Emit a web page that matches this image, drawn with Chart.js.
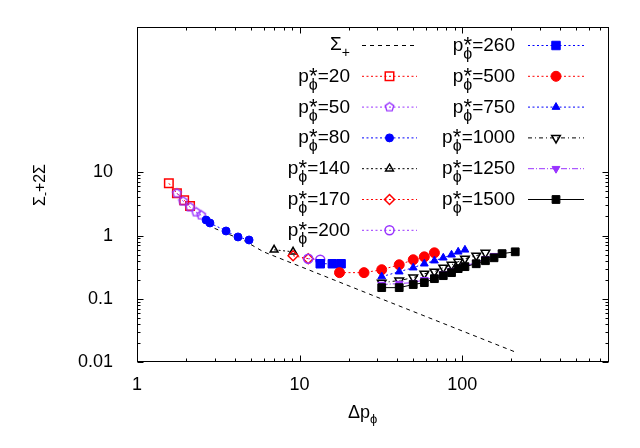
<!DOCTYPE html>
<html>
<head>
<meta charset="utf-8">
<script src="https://cdn.jsdelivr.net/npm/chart.js@4.4.0/dist/chart.umd.min.js"></script>
<style>
html,body{margin:0;padding:0;background:#fff}
</style>
</head>
<body>
<canvas id="c" width="640" height="448"></canvas>
<script>
const FONT='"Liberation Sans", Arial, sans-serif';
const RED='#ff0000', PURPLE='#9933ff', BLUE='#0000ff', BLACK='#000000';

// values: x = Δp_phi, y = Σ_ + 2Σ
const sigX=[3.0,4.6,6.0,32.7,212];
const sigY=[1.3,0.82,0.553,0.097,0.0144];

const x20=[1.57,1.76,1.95,2.12];
const y20=[6.7,4.67,3.62,2.92];
const x50=[1.76,1.92,2.12,2.31,2.48];
const y50=[4.67,3.49,2.81,2.35,2.1];
const x80=[2.66,2.81,3.53,4.18,4.89];
const y80=[1.76,1.58,1.18,0.95,0.85];
const x140=[6.97,9.12];
const y140=[0.594,0.554];
const x170=[9.12,11.3];
const y170=[0.48,0.43];
const x200=[11.3,13.4];
const y200=[0.43,0.414];
const x260=[13.4,15.9,18.0];
const y260=[0.358,0.358,0.358];
const x500=[17.6,24.9,32,41,50,58.5,67.5];
const y500=[0.259,0.259,0.288,0.345,0.414,0.46,0.533];
const x750=[32,41,50,58.5,67.5,76.5,86,94.5,104];
const y750=[0.224,0.268,0.31,0.358,0.4,0.445,0.496,0.553,0.594];
const x1000=[32,41,50,58.5,67.5,76.5,86,94.5,104,122,139];
const y1000=[0.18,0.194,0.216,0.249,0.268,0.31,0.345,0.385,0.43,0.48,0.533];
const x1250=[32,41,50,58.5,67.5,76.5,86,94.5,104,122,139,157,176];
const y1250=[0.168,0.174,0.18,0.2,0.216,0.249,0.278,0.31,0.333,0.371,0.43,0.48,0.533];
const x1500=[32,41,50,58.5,67.5,76.5,86,94.5,104,122,139,157,176,212];
const y1500=[0.15,0.15,0.168,0.18,0.208,0.232,0.259,0.3,0.322,0.358,0.4,0.445,0.517,0.553];

const pStar=[20,50,80,140,170,200,260,500,750,1000,1250,1500];

const xMajor=[1,10,100];
const yMajor=[0.01,0.1,1,10];
const xMinor=[], yMinor=[];
[1,10,100].forEach(d=>{for(let k=2;k<=9;k++){ if(d*k<800) xMinor.push(d*k); }});
[0.01,0.1,1].forEach(d=>{for(let k=2;k<=9;k++) yMinor.push(d*k);});

function pentagon(color,r){
  const s=2*r+4, c=document.createElement('canvas');
  c.width=c.height=s;
  const g=c.getContext('2d');
  g.strokeStyle=color; g.lineWidth=1.4;
  g.beginPath();
  for(let i=0;i<5;i++){
    const a=-Math.PI/2+i*2*Math.PI/5;
    const px=s/2+r*Math.cos(a), py=s/2+r*Math.sin(a);
    if(i) g.lineTo(px,py); else g.moveTo(px,py);
  }
  g.closePath(); g.stroke();
  return c;
}

function ds(label,xs,ys,color,o){
  return Object.assign({
    label,
    data:xs.map((x,i)=>({x,y:ys[i]})),
    showLine:true,
    borderColor:color,borderWidth:1,borderDash:[2,2.5],
    pointBorderColor:color,pointBackgroundColor:color,pointBorderWidth:1,
    pointRadius:4,pointStyle:'circle',pointRotation:0
  },o);
}
const OPEN='rgba(0,0,0,0)';

const datasets=[
  ds('sigma',sigX,sigY,BLACK,{borderDash:[4,4],pointRadius:0}),
  ds('p20',x20,y20,RED,{pointStyle:'rect',pointRadius:6,pointBackgroundColor:OPEN,pointBorderWidth:1.5}),
  ds('p50',x50,y50,PURPLE,{pointStyle:pentagon(PURPLE,4.5)}),
  ds('p80',x80,y80,BLUE,{pointRadius:4}),
  ds('p140',x140,y140,BLACK,{pointStyle:'triangle',pointRadius:4.5,pointBackgroundColor:OPEN,pointBorderWidth:1.5}),
  ds('p170',x170,y170,RED,{pointStyle:'rectRot',pointRadius:5,pointBackgroundColor:OPEN,pointBorderWidth:1.5}),
  ds('p200',x200,y200,PURPLE,{pointRadius:4.5,pointBackgroundColor:OPEN,pointBorderWidth:1.5}),
  ds('p260',x260,y260,BLUE,{pointStyle:'rect',pointRadius:6}),
  ds('p500',x500,y500,RED,{pointRadius:5}),
  ds('p750',x750,y750,BLUE,{pointStyle:'triangle',pointRadius:4.5}),
  ds('p1000',x1000,y1000,BLACK,{pointStyle:'triangle',pointRotation:180,pointRadius:5,pointBackgroundColor:OPEN,pointBorderWidth:1.5,borderDash:[4,3,1,3]}),
  ds('p1250',x1250,y1250,PURPLE,{pointStyle:'triangle',pointRotation:180,pointRadius:4.5,borderDash:[6,2,1,2]}),
  ds('p1500',x1500,y1500,BLACK,{pointStyle:'rect',pointRadius:5.5,borderDash:[]})
];
// gnuplot draws later curves on top
datasets.forEach((d,i)=>{ d.order=datasets.length-i; });

function drawPLabel(ctx,right,y,val){
  const tail='='+val;
  ctx.font='19px '+FONT;
  const wT=ctx.measureText(tail).width, wP=ctx.measureText('p').width;
  ctx.font='16px '+FONT;
  const wS=Math.max(ctx.measureText('ϕ').width,9);
  const x0=right-wT-wS-wP;
  ctx.textBaseline='alphabetic';
  ctx.textAlign='left';
  ctx.font='19px '+FONT; ctx.fillText('p',x0,y+6);
  ctx.textAlign='center';
  ctx.font='22px '+FONT; ctx.fillText('*',x0+wP+wS/2,y+7);
  ctx.font='16px '+FONT; ctx.fillText('ϕ',x0+wP+wS/2,y+14);
  ctx.textAlign='left';
  ctx.font='19px '+FONT; ctx.fillText(tail,right-wT,y+6);
}

function drawSample(ctx,d,x1,x2,y){
  ctx.save();
  ctx.strokeStyle=d.borderColor; ctx.lineWidth=d.borderWidth;
  ctx.setLineDash(d.borderDash);
  ctx.beginPath(); ctx.moveTo(x1,y+0.5); ctx.lineTo(x2,y+0.5); ctx.stroke();
  ctx.setLineDash([]);
  if(d.pointRadius>0){
    ctx.fillStyle=d.pointBackgroundColor; ctx.strokeStyle=d.pointBorderColor;
    ctx.lineWidth=d.pointBorderWidth;
    Chart.helpers.drawPoint(ctx,{pointStyle:d.pointStyle,rotation:d.pointRotation,radius:d.pointRadius,borderWidth:d.pointBorderWidth},(x1+x2)/2,y+0.5);
  }
  ctx.restore();
}

const decor={
  id:'decor',
  afterDatasetsDraw(chart){
    const {ctx,chartArea:a,scales:{x,y}}=chart;
    ctx.save();
    ctx.strokeStyle='#000'; ctx.lineWidth=1;
    const L=Math.round(a.left)+0.5, R=Math.round(a.right)-0.5, T=Math.round(a.top)+0.5, B=Math.round(a.bottom)-0.5;
    ctx.beginPath();
    const tick=(vals,len,horiz)=>vals.forEach(v=>{
      if(horiz){
        const p=Math.round(x.getPixelForValue(v))+0.5;
        ctx.moveTo(p,B); ctx.lineTo(p,B-len); ctx.moveTo(p,T); ctx.lineTo(p,T+len);
      } else {
        const p=Math.round(y.getPixelForValue(v))+0.5;
        ctx.moveTo(L,p); ctx.lineTo(L+len,p); ctx.moveTo(R,p); ctx.lineTo(R-len,p);
      }
    });
    tick(xMajor,6,true); tick(xMinor,3,true);
    tick(yMajor,6,false); tick(yMinor,3,false);
    ctx.stroke();
    ctx.strokeRect(L,T,R-L,B-T);

    // axis titles
    ctx.fillStyle='#000';
    ctx.textBaseline='alphabetic';
    ctx.font='18px '+FONT; ctx.textAlign='left';
    ctx.fillText('Δp',348,418);
    const wD=ctx.measureText('Δp').width;
    ctx.font='13px '+FONT; ctx.fillText('ϕ',348+wD,423);

    ctx.save();
    ctx.translate(45,185); ctx.rotate(-Math.PI/2);
    ctx.font='16px '+FONT;
    const w1=ctx.measureText('Σ').width, w3=ctx.measureText('+2Σ').width;
    ctx.font='12px '+FONT;
    const w2=ctx.measureText('-').width;
    let sx=-(w1+w2+w3)/2;
    ctx.font='16px '+FONT; ctx.fillText('Σ',sx,0); sx+=w1;
    ctx.font='12px '+FONT; ctx.fillText('-',sx,4); sx+=w2;
    ctx.font='16px '+FONT; ctx.fillText('+2Σ',sx,0);
    ctx.restore();

    // key
    const rowY=i=>45+i*30.8;
    ctx.font='14px '+FONT;
    const wPlus=ctx.measureText('+').width;
    ctx.font='19px '+FONT;
    const wSig=ctx.measureText('Σ').width;
    ctx.fillText('Σ',350-wPlus-wSig,rowY(0)+5);
    ctx.font='14px '+FONT; ctx.fillText('+',350-wPlus,rowY(0)+12);
    drawSample(ctx,datasets[0],362,417,rowY(0));
    for(let i=0;i<pStar.length;i++){
      const col=i<6?0:1, row=col?i-6:i+1;
      const right=col?515:350, s1=col?528:362, s2=col?584:417;
      drawPLabel(ctx,right,rowY(row),pStar[i]);
      drawSample(ctx,datasets[i+1],s1,s2,rowY(row));
    }
    ctx.restore();
  }
};

new Chart(document.getElementById('c'),{
  type:'scatter',
  data:{datasets},
  options:{
    responsive:false,animation:false,devicePixelRatio:1,
    layout:{padding:{top:24,right:31,left:0,bottom:0}},
    plugins:{legend:{display:false},tooltip:{enabled:false}},
    scales:{
      x:{type:'logarithmic',min:1,max:800,
        afterBuildTicks:s=>{ s.ticks=xMajor.map(v=>({value:v})); },
        afterFit:s=>{ s.height=86; },
        grid:{display:false},border:{display:false},
        ticks:{color:'#000',font:{family:FONT,size:18},padding:4,maxRotation:0,autoSkip:false,callback:v=>String(v)}},
      y:{type:'logarithmic',min:0.01,max:2000,
        afterBuildTicks:s=>{ s.ticks=yMajor.map(v=>({value:v})); },
        afterFit:s=>{ s.width=137; },
        grid:{display:false},border:{display:false},
        ticks:{color:'#000',font:{family:FONT,size:18},padding:16,autoSkip:false,callback:v=>String(v)}}
    }
  },
  plugins:[decor]
});
</script>
</body>
</html>
